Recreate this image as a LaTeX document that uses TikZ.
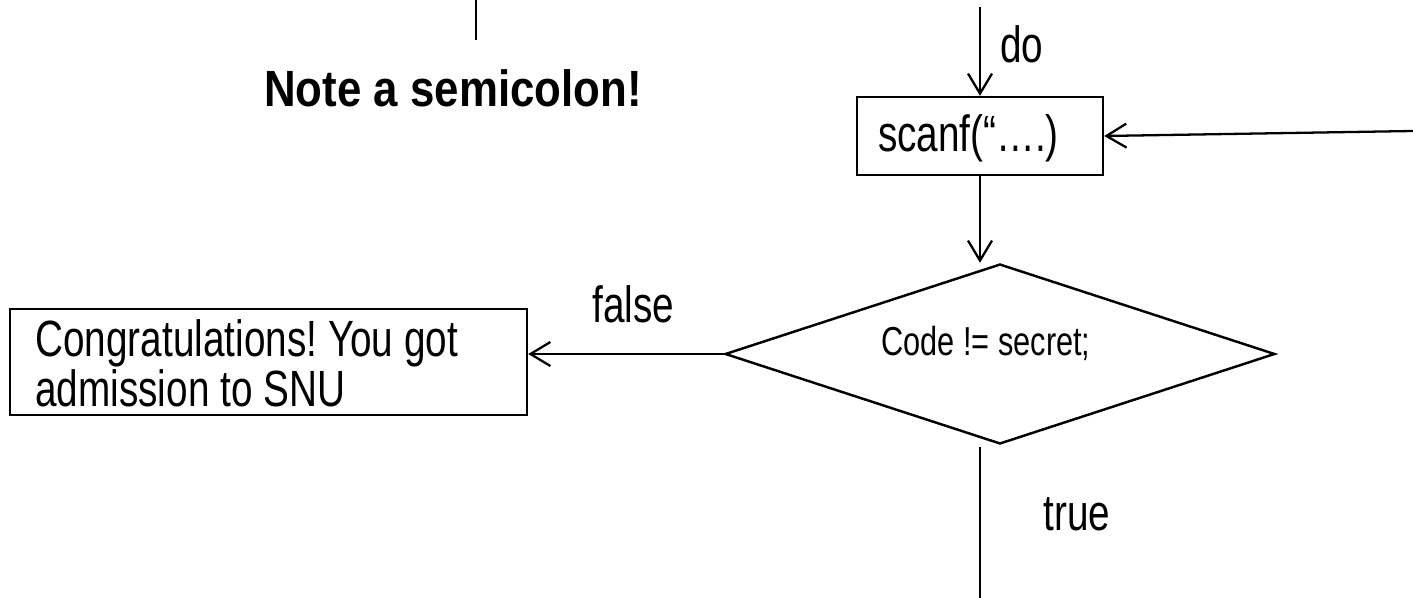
\documentclass[tikz,border=0pt]{standalone}
\usepackage{fontspec}
\setmainfont[FakeStretch=0.76,BoldFeatures={FakeStretch=0.86}]{Liberation Sans}
\usetikzlibrary{shapes.geometric,arrows.meta}
\begin{document}
\begin{tikzpicture}[x=0.02cm,y=-0.02cm,
  every node/.style={font=\fontsize{29}{24.4}\selectfont\frenchspacing, inner sep=0pt},
  box/.style={draw, line width=1.4pt, align=left},
  decision/.style={draw, diamond, line width=1.4pt, minimum width=11cm, minimum height=3.6cm, inner sep=0pt},
  conn/.style={line width=1.3pt},
  arr/.style={conn, -{Straight Barb[length=0.4cm,width=0.48cm,line width=1.3pt]}},
  lbl/.style={anchor=base west}
]
\useasboundingbox (0,0) rectangle (1413,598);

% top-left fragment
\coordinate (tla) at (476,0);
\coordinate (tlb) at (476,40);
\draw[conn] (tla) -- (tlb);
\node[anchor=base, font=\fontsize{29}{29}\selectfont\bfseries] (note) at (453,107) {Note a semicolon!};

% scanf box
\node[box, minimum width=4.92cm, minimum height=1.56cm, text width=4.08cm, inner xsep=0.42cm,
      text height=0.9cm, text depth=0.26cm] (scan) at (980,136) {scanf(“….)};
\coordinate (topin) at (980,7);
\draw[arr] (topin) -- (scan.north);
\node[lbl] (do) at (1000,63) {do};
\coordinate (loopin) at (1413,131);
\draw[arr] (loopin) -- (scan.east);

% decision
\node[decision] (dec) at (1000,354) {};
\node[anchor=base, font=\fontsize{23}{23}\selectfont] (dectext) at (986,355) {Code != secret;};
\draw[arr] (scan.south) -- (scan.south |- dec.north);

% false branch
\node[box, minimum width=10.34cm, minimum height=2.12cm] (cong) at (268.5,362) {};
\node[lbl, align=left] (congtext) at (35,406) {Congratulations! You got\\admission to SNU};
\draw[arr] (dec.west) -- (dec.west -| cong.east);
\node[lbl] (false) at (592,322) {false};

% true branch
\coordinate (ta) at (980,447);
\coordinate (tb) at (980,598);
\draw[conn] (ta) -- (tb);
\node[lbl] (true) at (1043,530) {true};
\end{tikzpicture}
\end{document}
